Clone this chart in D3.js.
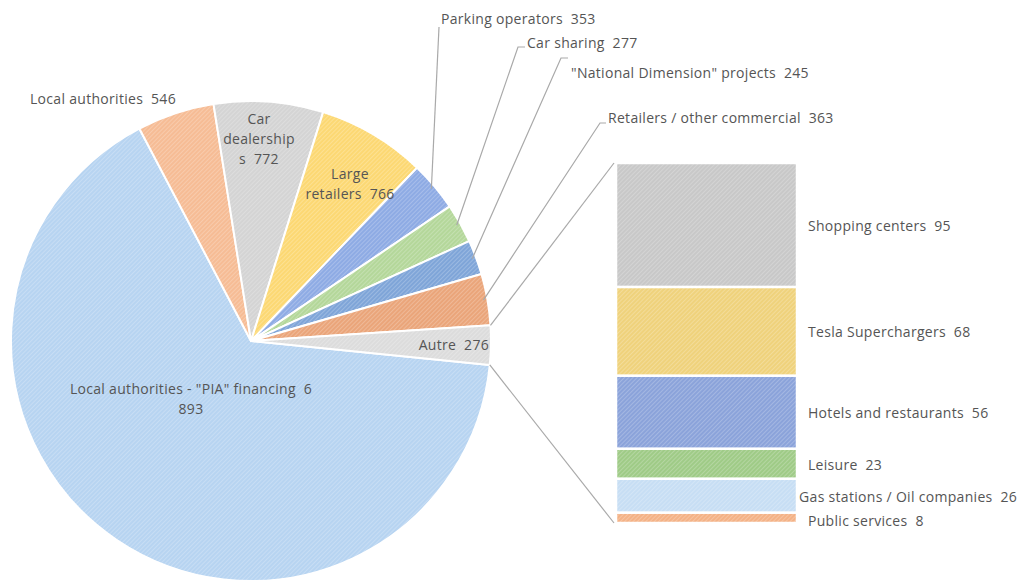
<!DOCTYPE html>
<html><head><meta charset="utf-8">
<script src="https://cdn.jsdelivr.net/npm/d3@7"></script>
<style>
html,body{margin:0;padding:0;background:#fff;}
svg{display:block;font-family:"Open Sans",Lato,sans-serif;}
</style></head><body>
<svg id="chart" width="1019" height="583"></svg>
<script>
// ---- data ----
const pieCategories = ['Local authorities - "PIA" financing', "Local authorities", "Car dealerships", "Large retailers", "Parking operators", "Car sharing", '"National Dimension" projects', "Retailers / other commercial", "Autre"];
const pieValues = [6893, 546, 772, 766, 353, 277, 245, 363, 276];
const barCategories = ["Public services", "Gas stations / Oil companies", "Leisure", "Hotels and restaurants", "Tesla Superchargers", "Shopping centers"];
const barValues = [8, 26, 23, 56, 68, 95];

// ---- styles ----
const pieColors = ["#b7d4f1", "#f6bc95", "#d4d4d4", "#fcd873", "#8eabe4", "#b4d79a", "#7fa5d8", "#eaa57a", "#dcdcdc"];
const barColors = ["#f4b286", "#c7def4", "#9fcb87", "#8ba3da", "#efd27c", "#c8c8c8"];
const textColor = "#555";
const lineColor = "#a9a9a9";
const SP = "\u00a0\u00a0";

const svg = d3.select("#chart");
const defs = svg.append("defs");
function pattern(id, color) {
  const p = defs.append("pattern").attr("id", id).attr("patternUnits", "userSpaceOnUse")
    .attr("width", 3).attr("height", 3).attr("patternTransform", "rotate(45)");
  p.append("rect").attr("width", 3).attr("height", 3).attr("fill", color);
  p.append("rect").attr("width", 1).attr("height", 3).attr("fill", "#fff").attr("opacity", 0.22);
  return `url(#${id})`;
}

// ---- pie ----
const cx = 251, cy = 341, R = 240;
const total = d3.sum(pieValues);
const autreSpan = pieValues[pieValues.length - 1] / total * 2 * Math.PI;
const endA = (91 * Math.PI / 180) + autreSpan / 2;
const startA = endA - 2 * Math.PI;
const pie = d3.pie().sort(null).value(d => d).startAngle(startA).endAngle(endA);
const arcs = pie(pieValues);
const arc = d3.arc().innerRadius(0).outerRadius(R);
const g = svg.append("g").attr("transform", `translate(${cx},${cy})`);
g.selectAll("path").data(arcs).join("path")
  .attr("d", arc)
  .attr("fill", (d, i) => pattern("pp" + i, pieColors[i]))
  .attr("stroke", "#fff").attr("stroke-width", 2).attr("stroke-linejoin", "round");

const fmt = v => v >= 1000 ? d3.format(",")(v).replace(",", " ") : String(v);
function pt(a, r) { return [cx + r * Math.sin(a), cy - r * Math.cos(a)]; }
const mid = d => (d.startAngle + d.endAngle) / 2;

// ---- bar ----
const barX0 = 616, barX1 = 797;
const y = d3.scaleLinear().domain([0, d3.sum(barValues)]).range([523, 163]);
const stack = d3.cumsum(barValues);
const bars = barValues.map((v, i) => ({ v, i, y0: stack[i] - v, y1: stack[i] }));
svg.append("g").selectAll("rect").data(bars).join("rect")
  .attr("x", barX0).attr("width", barX1 - barX0)
  .attr("y", d => y(d.y1)).attr("height", d => y(d.y0) - y(d.y1))
  .attr("fill", d => pattern("bp" + d.i, barColors[d.i]))
  .attr("stroke", "#fff").attr("stroke-width", 2.5);

// connector lines
const autre = arcs[arcs.length - 1];
const cTop = pt(autre.startAngle, R), cBot = pt(autre.endAngle, R);
svg.append("line").attr("x1", cTop[0]).attr("y1", cTop[1]).attr("x2", barX0 - 2).attr("y2", y(d3.sum(barValues)))
  .attr("stroke", lineColor).attr("stroke-width", 1.2);
svg.append("line").attr("x1", cBot[0]).attr("y1", cBot[1]).attr("x2", barX0 - 2).attr("y2", y(0))
  .attr("stroke", lineColor).attr("stroke-width", 1.2);

// ---- labels ----
const T = svg.append("g").attr("font-size", 14).attr("letter-spacing", 0.3).attr("fill", textColor);
function label(lines, x, yy, anchor, lh = 20) {
  const t = T.append("text").attr("x", x).attr("y", yy).attr("text-anchor", anchor || "start").attr("dominant-baseline", "central");
  lines.forEach((l, k) => t.append("tspan").attr("x", x).attr("dy", k ? lh : 0).text(l));
  return t;
}
// inside / plain labels
const piaParts = fmt(pieValues[0]).split(" ");
label([pieCategories[0] + SP + piaParts[0], piaParts[1]], 191, 388, "middle");
label([pieCategories[1] + SP + pieValues[1]], 30, 98);
label(["Car", "dealership", "s" + SP + pieValues[2]], 259, 118, "middle");
label(["Large", "retailers" + SP + pieValues[3]], 350, 173, "middle");
label(["Autre" + SP + pieValues[8]], 489, 344, "end");

// leader labels
const leaders = [
  { i: 4, tx: 441, ty: 18, path: [[439, 27]] },
  { i: 5, tx: 527, ty: 42, path: [[518, 47], [525, 47]] },
  { i: 6, tx: 571, ty: 72, path: [[561, 58], [568, 58]] },
  { i: 7, tx: 608, ty: 117, path: [[600, 123], [606, 123]] },
];
leaders.forEach(L => {
  const d = arcs[L.i];
  const p0 = pt(mid(d), R - 4);
  svg.append("path").attr("d", d3.line()([p0, ...L.path])).attr("fill", "none")
    .attr("stroke", lineColor).attr("stroke-width", 1.2);
  label([pieCategories[L.i] + SP + pieValues[L.i]], L.tx, L.ty);
});

// bar labels
bars.forEach(b => {
  const t = label([barCategories[b.i] + SP + b.v], 808, (y(b.y0) + y(b.y1)) / 2 + (b.i === 0 ? 2 : 0));
  const w = t.node().getComputedTextLength();
  if (808 + w > 1017) t.selectAll("tspan").attr("x", 1017 - w);
});
</script>
</body></html>
